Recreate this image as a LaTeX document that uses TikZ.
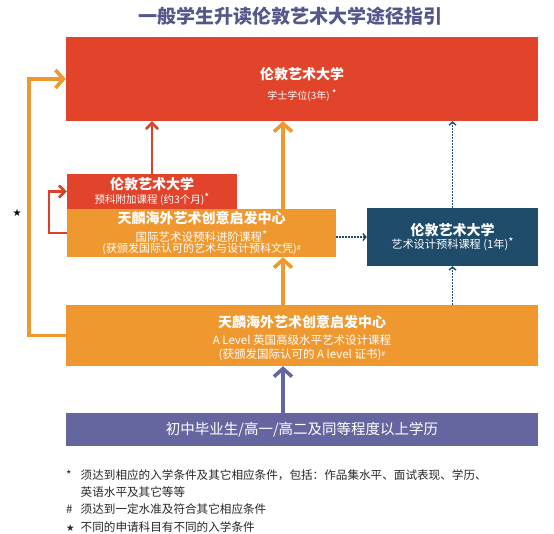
\documentclass[tikz,border=0pt]{standalone}
\usepackage{fontspec}
\setmainfont{Noto Sans CJK SC}
\newfontfamily\symfont{DejaVu Sans}
\usepackage{xcolor}
\usetikzlibrary{arrows.meta}

\definecolor{uniRed}{HTML}{E2432B}
\definecolor{arrRed}{HTML}{D9412B}
\definecolor{uniOrange}{HTML}{EF9830}
\definecolor{uniNavy}{HTML}{1F4C6B}
\definecolor{uniPurple}{HTML}{6566A0}
\definecolor{titleCol}{HTML}{55578C}
\newcommand{\boxhead}{\bfseries\fontsize{14}{16}\selectfont}

\begin{document}
\begin{tikzpicture}[x=1pt, y=-1pt,
    box/.style={rectangle, inner sep=0pt, align=center, text=white},
    thickarr/.style={-{Straight Barb[length=8pt,width=18pt]}, line width=3.6pt},
    redarr/.style={-{Straight Barb[length=6pt,width=12pt]}, line width=2.6pt, draw=arrRed},
    dotarr/.style={-{Straight Barb[length=3pt,width=7pt]}, line width=1.4pt, draw=uniNavy, dash pattern=on 1.4pt off 1.6pt}]
  \useasboundingbox (0,0) rectangle (554,534);

  % Title
  \node[font=\bfseries\fontsize{19}{22}\selectfont, text=titleCol] (title) at (290,16) {一般学生升读伦敦艺术大学途径指引};

  % Boxes
  \node[box, fill=uniRed, minimum width=472pt, minimum height=84pt, font=\fontsize{10}{12}\selectfont]
    (degree) at (302,79) {\rule{0pt}{22pt}{\boxhead 伦敦艺术大学}\\[8pt]学士学位(3年) \raisebox{2pt}{*}};
  \node[box, fill=uniRed, minimum width=170pt, minimum height=35pt, font=\fontsize{10.5}{13}\selectfont]
    (foundExt) at (152,191.5) {{\boxhead 伦敦艺术大学}\\[1pt]预科附加课程 (约3个月)\raisebox{2pt}{*}};
  \node[box, fill=uniOrange, minimum width=269pt, minimum height=48pt, font=\fontsize{11}{11}\selectfont]
    (intlFound) at (201.5,233) {{\boxhead 天麟海外艺术创意启发中心}\\[4pt]{\fontsize{11.5}{11}\selectfont 国际艺术设预科进阶课程\raisebox{2pt}{*}}\\(获颁发国际认可的艺术与设计预科文凭)\raisebox{2pt}{\scriptsize\#}};
  \node[box, fill=uniNavy, minimum width=171pt, minimum height=58pt, font=\fontsize{11.2}{12}\selectfont]
    (ualFound) at (452.5,237) {{\boxhead 伦敦艺术大学}\\[0pt]艺术设计预科课程 (1年)\raisebox{2pt}{*}};
  \node[box, fill=uniOrange, minimum width=472pt, minimum height=61pt, font=\fontsize{11.5}{14}\selectfont]
    (alevel) at (302,335.5) {\rule{0pt}{18pt}{\boxhead 天麟海外艺术创意启发中心}\\[3pt]A Level 英国高级水平艺术设计课程\\(获颁发国际认可的 A level 证书)\raisebox{2pt}{\scriptsize\#}};
  \node[box, fill=uniPurple, minimum width=472pt, minimum height=33pt, font=\fontsize{14.5}{16}\selectfont]
    (entry) at (302,429.5) {初中毕业生/高一/高二及同等程度以上学历};

  \coordinate (ocol) at (283,0);

  % Orange and purple paths
  \draw[thickarr, draw=uniPurple] (entry.north -| ocol) -- (alevel.south -| ocol);
  \draw[thickarr, draw=uniOrange] (alevel.north -| ocol) -- (intlFound.south -| ocol);
  \draw[thickarr, draw=uniOrange] (intlFound.north -| ocol) -- (degree.south -| ocol);
  \draw[thickarr, draw=uniOrange] (alevel.west) -- ++(-37,0) |- (degree.west);

  % Red paths
  \draw[redarr] (foundExt.north) -- (foundExt.north |- degree.south);
  \draw[redarr] (intlFound.west) -- ++(-18,0) |- (foundExt.west);

  % Dotted paths
  \draw[dotarr] (ualFound.west -| intlFound.east) -- (ualFound.west);
  \draw[dotarr] (ualFound.north) -- (ualFound.north |- degree.south);
  \draw[dotarr] (alevel.north -| ualFound) -- (ualFound.south);

  \node[font=\symfont\fontsize{10}{10}\selectfont] (star) at (17,213) {★};

  % Notes
  \node[anchor=north west, inner sep=0pt, text=black!85, font=\fontsize{11.6}{17.3}\selectfont] (notes) at (66,467)
    {\begin{tabular}{@{}l@{\hspace{6pt}}l@{}}
      * & 须达到相应的入学条件及其它相应条件，包括：作品集水平、面试表现、学历、\\
        & 英语水平及其它等等\\
      \# & 须达到一定水准及符合其它相应条件\\
      {\symfont\fontsize{9.5}{9}\selectfont ★} & 不同的申请科目有不同的入学条件
    \end{tabular}};
\end{tikzpicture}
\end{document}
